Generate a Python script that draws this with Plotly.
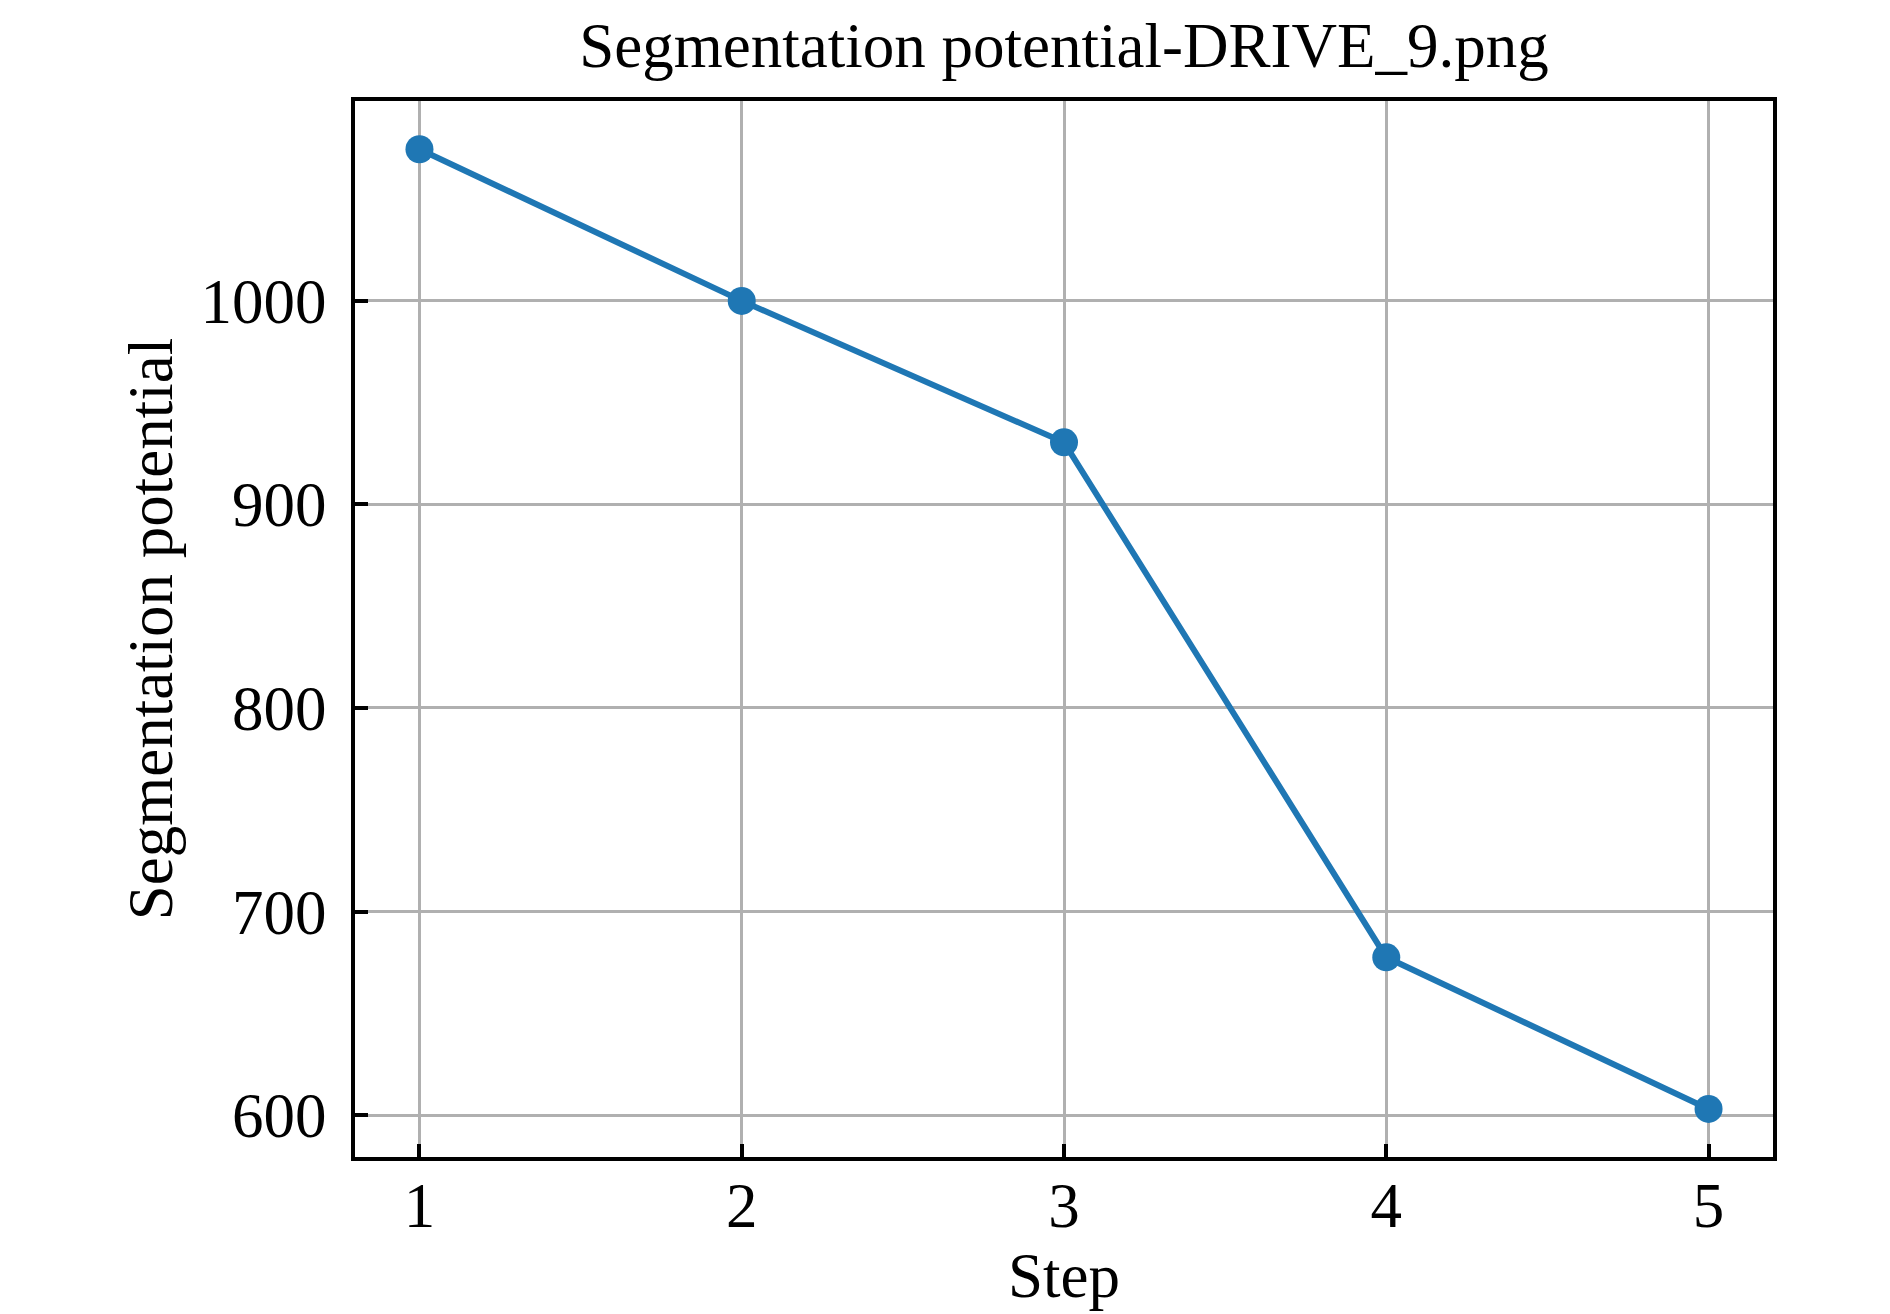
import plotly.graph_objects as go

# values
steps = [1, 2, 3, 4, 5]
potential = [1074.5, 1000.0, 930.5, 677.5, 603.0]
y_ticks = [600, 700, 800, 900, 1000]

title_text = "Segmentation potential-DRIVE_9.png"
font_family = "Liberation Serif, Times New Roman, serif"
font_size = 63

fig = go.Figure()
fig.add_trace(
    go.Scatter(
        x=steps,
        y=potential,
        mode="lines+markers",
        line=dict(color="#1f77b4", width=6),
        marker=dict(color="#1f77b4", size=28),
        showlegend=False,
    )
)

axis_common = dict(
    showline=True,
    linecolor="black",
    linewidth=4,
    mirror=True,
    ticks="inside",
    ticklen=13,
    tickwidth=4,
    tickcolor="black",
    showgrid=True,
    gridcolor="#b0b0b0",
    gridwidth=2.7,
    zeroline=False,
    automargin=False,
    tickfont=dict(family=font_family, size=font_size, color="black"),
)

fig.update_xaxes(
    range=[0.8, 5.2],
    tickvals=steps,
    ticklabelstandoff=-10,
    title=dict(text="Step", font=dict(family=font_family, size=font_size, color="black"), standoff=4),
    **axis_common,
)
fig.update_yaxes(
    range=[579.4, 1098.2],
    tickvals=y_ticks,
    ticklabelstandoff=12,
    title=dict(text="Segmentation potential", font=dict(family=font_family, size=font_size, color="black"), standoff=8),
    **axis_common,
)

fig.update_layout(
    width=1890,
    height=1314,
    margin=dict(l=347, r=125, t=93, b=165),
    paper_bgcolor="white",
    plot_bgcolor="white",
    title=dict(
        text=title_text,
        font=dict(family=font_family, size=font_size, color="black"),
        x=0.5,
        xref="paper",
        xanchor="center",
        y=1 - 37 / 1314,
        yref="container",
        yanchor="middle",
    ),
)

fig.write_html("out.html")
